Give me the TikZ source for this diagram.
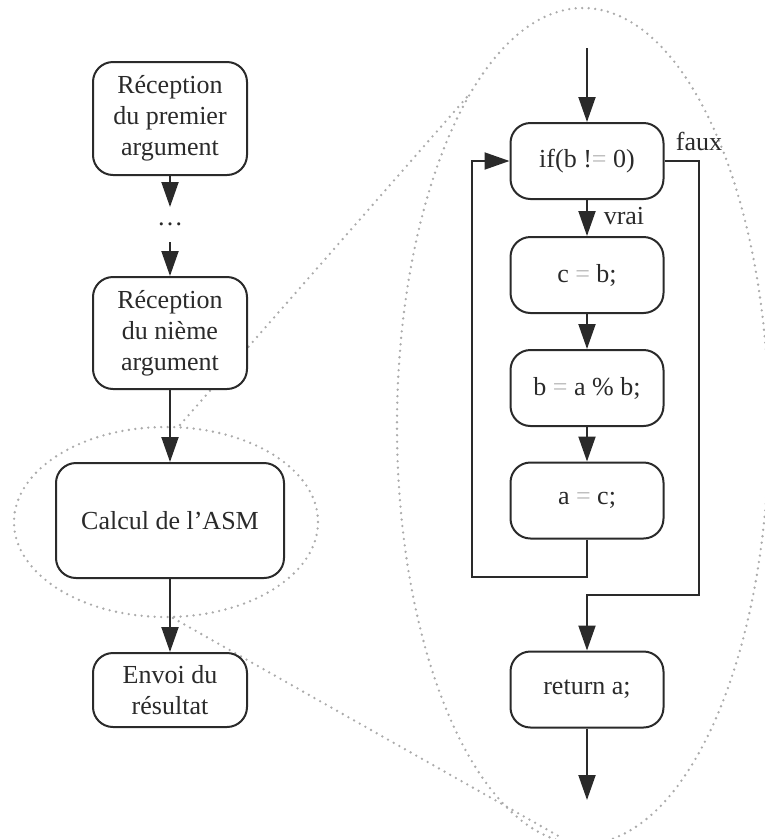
\documentclass[tikz,border=0pt]{standalone}
\usepackage{fontspec}
\setmainfont{Liberation Serif}
\usetikzlibrary{arrows.meta}
\definecolor{ink}{HTML}{2A2A2A}
\definecolor{zoomdot}{HTML}{ABABAB}
\definecolor{eqgray}{HTML}{B8B8B8}
\newcommand{\eqs}{\textcolor{eqgray}{=}}
\tikzset{
  stepbox/.style={draw=ink, line width=2pt, fill=white, rounded corners=20pt,
    inner sep=0pt, align=center, text=ink, font=\fontsize{26}{31}\selectfont},
  flow/.style={draw=ink, line width=2pt, -{Triangle[width=17pt,length=25pt]}},
  zoomline/.style={draw=zoomdot, line width=2.6pt, line cap=round,
    dash pattern=on 0pt off 6.5pt},
  lbl/.style={text=ink, font=\fontsize{26}{31}\selectfont, inner sep=0pt},
}
\begin{document}
\begin{tikzpicture}[x=1pt,y=-1pt]
\useasboundingbox (0,0) rectangle (765,839);

% magnifier outlines (behind everything)
\draw[zoomline] (166,522) ellipse [x radius=152, y radius=95];
\draw[zoomline] (583,426) ellipse [x radius=186, y radius=418];
\coordinate (zs1) at (180,425);
\coordinate (ze1) at (467,97);
\coordinate (zs2) at (173,618);
\coordinate (ze2) at (562,838);
\draw[zoomline] (zs1) -- (ze1);
\draw[zoomline] (zs2) -- (ze2);

% main sequence
\node[stepbox, minimum width=154pt, minimum height=113pt] (recv1) at (170,118.5)
  {Réception\\du premier\\argument};
\node[lbl] (dots) at (170,224) {\dots};
\node[stepbox, minimum width=154pt, minimum height=112pt] (recvn) at (170,333)
  {Réception\\du nième\\argument};
\node[stepbox, minimum width=228pt, minimum height=115pt] (asm) at (170,520.5)
  {Calcul de l’ASM};
\node[stepbox, minimum width=154pt, minimum height=74pt] (send) at (170,690)
  {Envoi du\\résultat};

\draw[flow] (recv1.south) -- (170,207);
\draw[flow] (170,242) -- (recvn.north);
\draw[flow] (recvn.south) -- (asm.north);
\draw[flow] (asm.south) -- (send.north);

% detail of the computation
\coordinate (in) at (587,48);
\node[stepbox, minimum width=153pt, minimum height=76pt] (test) at (587,161)
  {if(b !\eqs{} 0)};
\node[stepbox, minimum width=153pt, minimum height=76pt] (s1) at (587,275)
  {c \eqs{} b;};
\node[stepbox, minimum width=153pt, minimum height=76pt] (s2) at (587,388)
  {b \eqs{} a \% b;};
\node[stepbox, minimum width=153pt, minimum height=76pt] (s3) at (587,500.5)
  {a \eqs{} c;};
\node[stepbox, minimum width=153pt, minimum height=76pt] (ret) at (587,689.5)
  {return a;};
\coordinate (out) at (587,800);

\draw[flow] (in) -- (test.north);
\draw[flow] (test.south) -- (s1.north);
\draw[flow] (s1.south) -- (s2.north);
\draw[flow] (s2.south) -- (s3.north);
\draw[flow] (s3.south) -- (587,577) -- (472,577) -- (472,161) -- (test.west);
\draw[flow] (test.east) -- (699,161) -- (699,595) -- (587,595) -- (ret.north);
\draw[flow] (ret.south) -- (out);

\node[lbl] (faux) at (699,141) {faux};
\node[lbl] (vrai) at (624,216) {vrai};
\end{tikzpicture}
\end{document}
